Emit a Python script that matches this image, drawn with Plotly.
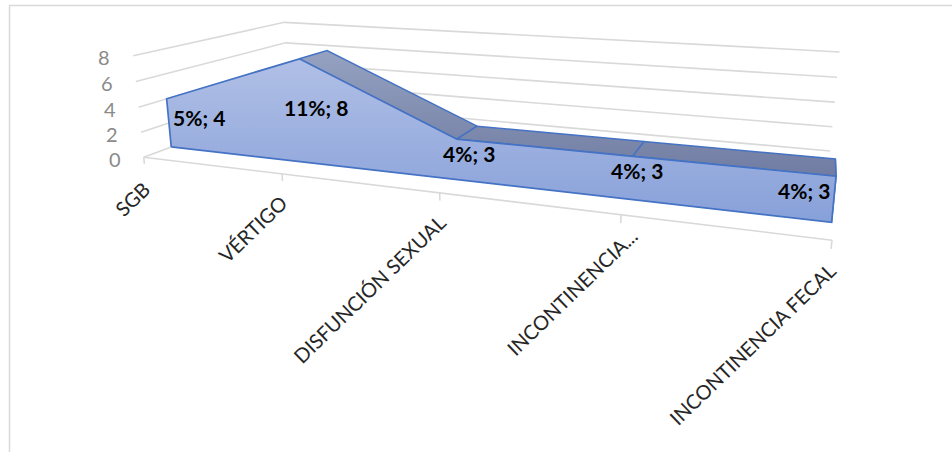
import numpy as np
import plotly.graph_objects as go

# Chart data
categories = ["SGB", "VÉRTIGO", "DISFUNCIÓN SEXUAL", "INCONTINENCIA...", "INCONTINENCIA FECAL"]
values = [4, 8, 3, 3, 3]
percents = ["5%", "11%", "4%", "4%", "4%"]
value_ticks = [0, 2, 4, 6, 8]

# Depth of the area's front and back faces inside the box (0 = front, 1 = rear)
FRONT, BACK = 0.155, 0.35
GRID = "#d9d9d9"
EDGE = "#4472c4"

# Calibration of the oblique view: (category, depth, value) -> screen position
view_pairs = [
    ((0, 0, 0), (145, 156)), ((0, 0, 2), (141, 132)), ((0, 0, 4), (138, 107)),
    ((0, 0, 6), (135, 82)), ((0, 0, 8), (133, 56)),
    ((0, 1, 8), (285, 22)), ((0, 1, 6), (286, 43)), ((0, 1, 4), (287, 63)), ((0, 1, 0), (288, 104)),
    ((4, 1, 8), (839, 52)), ((4, 1, 6), (837, 77)), ((4, 1, 4), (835, 102)),
    ((4, 1, 2), (833, 127)), ((4, 1, 0), (830, 150)),
    ((4, 0, 0), (832, 240)), ((1, 0, 0), (282, 173)), ((2, 0, 0), (441, 193)), ((3, 0, 0), (620, 217)),
]


def fit_view(pairs):
    rows, rhs = [], []
    for (a, b, c), (sx, sy) in pairs:
        rows.append([a, b, c, 1, 0, 0, 0, 0, -sx * a, -sx * b, -sx * c])
        rhs.append(sx)
        rows.append([0, 0, 0, 0, a, b, c, 1, -sy * a, -sy * b, -sy * c])
        rhs.append(sy)
    sol = np.linalg.lstsq(np.array(rows, float), np.array(rhs, float), rcond=None)[0]
    return np.append(sol, 1.0).reshape(3, 4)


VIEW = fit_view(view_pairs)


def project(cat, depth, value):
    h = VIEW @ np.array([cat, depth, value, 1.0])
    return h[0] / h[2], h[1] / h[2]


def path(points):
    pts = [project(*p) for p in points]
    return [p[0] for p in pts], [p[1] for p in pts]


fig = go.Figure()


def line(points, color=GRID, width=1.6):
    x, y = path(points)
    fig.add_trace(go.Scatter(x=x, y=y, mode="lines", line=dict(color=color, width=width),
                             hoverinfo="skip", showlegend=False))


def face(points, colors, start, stop, width=1.5):
    x, y = path(points + points[:1])
    fig.add_trace(go.Scatter(
        x=x, y=y, mode="lines", fill="toself",
        fillgradient=dict(type="vertical", colorscale=[[0, colors[0]], [1, colors[1]]], start=start, stop=stop),
        line=dict(color=EDGE, width=width), hoverinfo="skip", showlegend=False))


last = len(categories) - 1

# Side and back gridlines
for v in value_ticks:
    line([(0, 0, v), (0, 1, v), (last, 1, v)])

# Floor front edge with category tick marks
line([(0, 0, 0), (last, 0, 0)])
for i in range(len(categories)):
    line([(i, 0, 0), (i, 0, -0.55)])

# Right end cap of the area
face([(last, BACK, values[-1]), (last, BACK, 0), (last, FRONT, 0), (last, FRONT, values[-1])],
     ("#a3b5e0", "#8aa2da"), 50, 225)

# Top surfaces that face the viewer
for i in range(1, last):
    face([(i, FRONT, values[i]), (i, BACK, values[i]), (i + 1, BACK, values[i + 1]), (i + 1, FRONT, values[i + 1])],
         ("#96a2c1", "#6d799f"), 50, 185)

# Front face of the area
front = [(0, FRONT, 0)] + [(i, FRONT, values[i]) for i in range(len(values))] + [(last, FRONT, 0)]
face(front, ("#b1c0e6", "#87a0d9"), 55, 225, width=1.7)

annotations = []

# Value axis labels
for v in value_ticks:
    x, y = project(0, 0, v)
    annotations.append(dict(x=x, y=y, text=str(v), showarrow=False, xanchor="right", xshift=-21, yshift=-1.5,
                            font=dict(family="Lato", size=20, color="#8a8a8a")))

# Category labels, rotated
label_shift = [(13, 17), (12, 14), (13, 14), (23, 6), (11, 16)]
for i, name in enumerate(categories):
    x, y = project(i, 0, 0)
    dx, dy = label_shift[i]
    annotations.append(dict(x=x, y=y, text=name, showarrow=False, textangle=-44, xanchor="right", yanchor="top",
                            xshift=dx, yshift=-dy, font=dict(family="Lato", size=20, color="#262626")))

# Data labels inside the area
data_shift = [(30, -6), (14, -4), (12, -6), (5, -8), (-30, -9)]
for i, (pct, val) in enumerate(zip(percents, values)):
    x, y = project(i, FRONT, val / 2)
    dx, dy = data_shift[i]
    annotations.append(dict(x=x, y=y, text=f"<b>{pct}; {val}</b>", showarrow=False, xshift=dx, yshift=-dy,
                            font=dict(family="Lato", size=21, color="#000000")))

# Chart area border, left and top only
shapes = [
    dict(type="line", xref="paper", yref="paper", x0=9.5 / 952, x1=9.5 / 952, y0=0, y1=1 - 5.5 / 452,
         line=dict(color=GRID, width=1.5)),
    dict(type="line", xref="paper", yref="paper", x0=9 / 952, x1=1, y0=1 - 5.5 / 452, y1=1 - 5.5 / 452,
         line=dict(color=GRID, width=1.5)),
]

fig.update_layout(
    width=952, height=452, margin=dict(l=0, r=0, t=0, b=0),
    paper_bgcolor="white", plot_bgcolor="white", showlegend=False,
    xaxis=dict(range=[0, 952], visible=False, fixedrange=True),
    yaxis=dict(range=[452, 0], visible=False, fixedrange=True),
    annotations=annotations, shapes=shapes,
)

fig.write_html("out.html", config=dict(displayModeBar=False))
